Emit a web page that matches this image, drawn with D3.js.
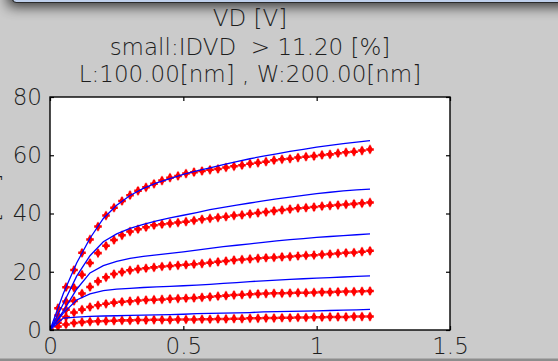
<!DOCTYPE html>
<html>
<head>
<meta charset="utf-8">
<script src="https://cdn.jsdelivr.net/npm/d3@7"></script>
<style>
  html, body { margin: 0; padding: 0; background: #cbcbcb; overflow: hidden; }
  svg { display: block; }
  text { font-family: "DejaVu Sans", sans-serif; font-weight: 200; fill: #1e1e1e; }
</style>
</head>
<body>
<svg id="chart" width="558" height="361"></svg>
<script>
// Drain voltage grid of the measured points [V]
const vdMeasured = [0, 0.03, 0.06, 0.09, 0.12, 0.15, 0.18, 0.21, 0.24, 0.27, 0.3, 0.33, 0.36, 0.39,
  0.42, 0.45, 0.48, 0.51, 0.54, 0.57, 0.6, 0.63, 0.66, 0.69, 0.72, 0.75, 0.78, 0.81, 0.84, 0.87,
  0.9, 0.93, 0.96, 0.99, 1.02, 1.05, 1.08, 1.11, 1.14, 1.17, 1.2];

// Measured drain current, one list per gate bias (highest first)
const idMeasured1 = [0, 7.5, 14.7, 20.6, 26.5, 31.1, 35.5, 39.3, 42.0, 44.3, 46.3, 47.8, 49.0, 50.2,
  51.3, 52.3, 52.9, 53.7, 54.2, 54.6, 55.0, 55.3, 55.8, 56.2, 56.6, 57.1, 57.4, 57.8, 58.3, 58.6,
  58.8, 59.2, 59.5, 59.7, 60.1, 60.3, 60.7, 61.0, 61.2, 61.6, 62.0];
const idMeasured2 = [0, 5.0, 9.8, 14.5, 19.0, 23.0, 26.4, 28.9, 30.9, 32.5, 33.8, 34.6, 35.3, 36.0,
  36.3, 36.6, 36.9, 37.2, 37.6, 38.0, 38.3, 38.6, 38.9, 39.3, 39.5, 39.9, 40.2, 40.5, 40.9, 41.2,
  41.5, 41.8, 42.0, 42.2, 42.5, 42.7, 42.9, 43.1, 43.3, 43.5, 43.8];
const idMeasured3 = [0, 3.5, 7.0, 10.0, 12.5, 14.8, 16.7, 18.1, 19.2, 19.9, 20.5, 20.9, 21.2, 21.5,
  21.8, 22.0, 22.2, 22.4, 22.6, 22.8, 23.1, 23.4, 23.7, 24.0, 24.2, 24.4, 24.6, 24.8, 24.9, 25.1,
  25.2, 25.4, 25.6, 25.7, 25.9, 26.1, 26.3, 26.5, 26.6, 26.9, 27.2];
const idMeasured4 = [0, 2.5, 4.5, 6.0, 7.0, 7.9, 8.5, 9.0, 9.4, 9.7, 9.9, 10.1, 10.3, 10.4,
  10.5, 10.7, 10.8, 10.9, 11.0, 11.2, 11.4, 11.6, 11.8, 12.0, 12.1, 12.3, 12.4, 12.5, 12.6, 12.6,
  12.7, 12.8, 12.8, 12.9, 13.0, 13.0, 13.1, 13.2, 13.2, 13.3, 13.4];
const idMeasured5 = [0, 1.2, 1.9, 2.4, 2.7, 2.9, 3.0, 3.1, 3.2, 3.3, 3.3, 3.4, 3.4, 3.5,
  3.5, 3.5, 3.6, 3.6, 3.6, 3.7, 3.7, 3.8, 3.8, 3.9, 3.9, 4.0, 4.0, 4.1, 4.1, 4.2,
  4.2, 4.3, 4.3, 4.4, 4.4, 4.5, 4.5, 4.5, 4.6, 4.6, 4.6];

// Drain voltage grid of the model curves [V]
const vdSimulated = [0, 0.05, 0.1, 0.15, 0.2, 0.25, 0.3, 0.35, 0.4, 0.45, 0.5, 0.55, 0.6,
  0.65, 0.7, 0.75, 0.8, 0.85, 0.9, 0.95, 1.0, 1.05, 1.1, 1.15, 1.2];

// Model drain current, same gate biases
const idSimulated1 = [0, 12.5, 23.0, 31.5, 38.3, 42.8, 46.2, 48.6, 50.5, 52.0, 53.4, 54.6, 55.7,
  56.8, 57.8, 58.8, 59.7, 60.5, 61.3, 62.0, 62.8, 63.4, 64.0, 64.5, 65.0];
const idSimulated2 = [0, 9.0, 18.5, 25.5, 30.3, 33.0, 34.9, 36.3, 37.5, 38.5, 39.4, 40.3, 41.3,
  42.1, 42.9, 43.6, 44.3, 45.0, 45.6, 46.2, 46.8, 47.3, 47.8, 48.1, 48.4];
const idSimulated3 = [0, 6.5, 14.0, 19.6, 22.1, 23.6, 24.6, 25.3, 25.8, 26.3, 26.8, 27.4, 28.0,
  28.6, 29.1, 29.6, 30.1, 30.6, 31.0, 31.4, 31.8, 32.1, 32.4, 32.7, 33.0];
const idSimulated4 = [0, 5.8, 10.3, 12.4, 13.5, 14.0, 14.3, 14.6, 14.8, 15.0, 15.2, 15.4, 15.7,
  16.0, 16.3, 16.6, 16.9, 17.1, 17.4, 17.6, 17.8, 18.0, 18.2, 18.4, 18.6];
const idSimulated5 = [0, 4.1, 4.4, 4.7, 4.8, 4.9, 5.0, 5.1, 5.2, 5.3, 5.4, 5.6, 5.7,
  5.8, 5.9, 6.0, 6.2, 6.3, 6.4, 6.5, 6.6, 6.7, 6.8, 6.9, 7.1];

// Axis ticks and header text
const xTickValues = [0, 0.5, 1, 1.5];
const xTickLabels = ["0", "0.5", "1", "1.5"];
const yTickValues = [0, 20, 40, 60, 80];
const yTickLabels = ["0", "20", "40", "60", "80"];
const titleLines = ["VD [V]", "small:IDVD  > 11.20 [%]", "L:100.00[nm] , W:200.00[nm]"];
const yAxisTitle = "ID [uA]";

const measuredSeries = [idMeasured1, idMeasured2, idMeasured3, idMeasured4, idMeasured5];
const simulatedSeries = [idSimulated1, idSimulated2, idSimulated3, idSimulated4, idSimulated5];

const svg = d3.select("#chart");
const W = 558, H = 361;
const plot = { left: 50, right: 450, top: 97, bottom: 330 };

const x = d3.scaleLinear().domain([0, 1.5]).range([plot.left, plot.right]);
const y = d3.scaleLinear().domain([0, 80]).range([plot.bottom, plot.top]);

// Window frame above with its drop shadow
const defs = svg.append("defs");
defs.append("filter").attr("id", "soft").attr("x", "-20%").attr("y", "-300%")
  .attr("width", "140%").attr("height", "700%")
  .append("feGaussianBlur").attr("stdDeviation", 7);
defs.append("clipPath").attr("id", "plotClip").append("rect")
  .attr("x", plot.left).attr("y", plot.top)
  .attr("width", plot.right - plot.left).attr("height", plot.bottom - plot.top);

svg.append("rect").attr("x", 0).attr("y", 0).attr("width", W).attr("height", H).attr("fill", "#cbcbcb");
svg.append("rect").attr("x", 8).attr("y", -40).attr("width", 620).attr("height", 46)
  .attr("fill", "#000").attr("opacity", 0.8).attr("filter", "url(#soft)");
svg.append("rect").attr("x", 12.5).attr("y", -20).attr("width", 600).attr("height", 22.5)
  .attr("rx", 4).attr("fill", "#bfd0ec").attr("stroke", "#2b2b2b").attr("stroke-width", 1.2);
svg.append("rect").attr("x", 0).attr("y", 358.5).attr("width", W).attr("height", 3).attr("fill", "#8d8d8d");

// Header text
svg.append("g").selectAll("text").data(titleLines).join("text")
  .attr("x", (plot.left + plot.right) / 2)
  .attr("y", (d, i) => [26, 55, 82][i])
  .attr("text-anchor", "middle")
  .style("white-space", "pre")
  .attr("font-size", 23)
  .text(d => d);

// Vertical axis title (partly outside the window)
svg.append("text")
  .attr("transform", `translate(-1,${(plot.top + plot.bottom) / 2}) rotate(-90)`)
  .attr("text-anchor", "middle")
  .attr("font-size", 23)
  .text(yAxisTitle);

// Plot area
svg.append("rect").attr("x", plot.left).attr("y", plot.top)
  .attr("width", plot.right - plot.left).attr("height", plot.bottom - plot.top)
  .attr("fill", "#ffffff");

// Measured points: filled red cross-diamonds
const crossPath = d3.symbol(d3.symbolCross, 32)();
const diamondPath = d3.symbol(d3.symbolDiamond, 30)();
const markerPath = crossPath + diamondPath;
const gMeas = svg.append("g").attr("clip-path", "url(#plotClip)");
measuredSeries.forEach(series => {
  gMeas.append("g").selectAll("path").data(series).join("path")
    .attr("transform", (d, i) => `translate(${x(vdMeasured[i])},${y(d)})`)
    .attr("d", markerPath)
    .attr("fill", "#ff0000");
});

// Model curves: blue lines
const line = d3.line().x((d, i) => x(vdSimulated[i])).y(d => y(d));
const gSim = svg.append("g").attr("clip-path", "url(#plotClip)");
simulatedSeries.forEach(series => {
  gSim.append("path").datum(series).attr("d", line)
    .attr("fill", "none").attr("stroke", "#0000ff").attr("stroke-width", 1.3);
});

// Axes: ticks point inward on all four sides
function styleAxis(g) {
  g.select(".domain").remove();
  g.selectAll(".tick line").attr("stroke", "#000").attr("stroke-width", 1.2);
  g.selectAll(".tick text").attr("font-size", 23).attr("font-family", null).attr("fill", "#1e1e1e");
}
svg.append("g").attr("transform", `translate(0,${plot.bottom})`)
  .call(d3.axisBottom(x).tickValues(xTickValues).tickFormat((d, i) => xTickLabels[i])
    .tickSizeInner(-4).tickSizeOuter(0).tickPadding(8))
  .call(styleAxis);
svg.append("g").attr("transform", `translate(0,${plot.top})`)
  .call(d3.axisTop(x).tickValues(xTickValues).tickFormat("")
    .tickSizeInner(-4).tickSizeOuter(0))
  .call(styleAxis);
svg.append("g").attr("transform", `translate(${plot.left},0)`)
  .call(d3.axisLeft(y).tickValues(yTickValues).tickFormat((d, i) => yTickLabels[i])
    .tickSizeInner(-4).tickSizeOuter(0).tickPadding(8))
  .call(styleAxis);
svg.append("g").attr("transform", `translate(${plot.right},0)`)
  .call(d3.axisRight(y).tickValues(yTickValues).tickFormat("")
    .tickSizeInner(-4).tickSizeOuter(0))
  .call(styleAxis);

// Plot frame
svg.append("rect").attr("x", plot.left).attr("y", plot.top)
  .attr("width", plot.right - plot.left).attr("height", plot.bottom - plot.top)
  .attr("fill", "none").attr("stroke", "#000").attr("stroke-width", 1.4);
</script>
</body>
</html>
